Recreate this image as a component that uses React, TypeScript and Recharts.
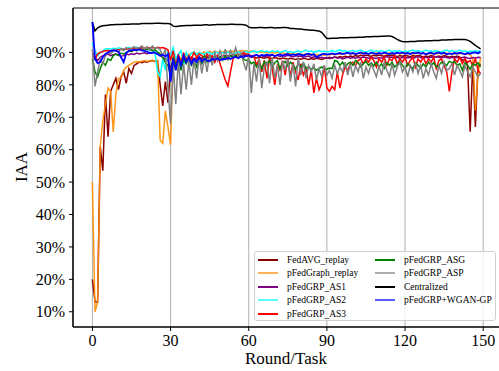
import React from "react";
import {
  LineChart,
  Line,
  XAxis,
  YAxis,
  CartesianGrid,
  Legend,
  ReferenceArea,
} from "recharts";

// IAA (%) per round/task (rounds 0..149)
const FEDAVG_REPLAY = [
  20.0, 13.0, 13.0, 61.0, 53.5, 77.0, 64.0, 78.0, 80.0, 82.0,
  78.5, 82.5, 84.0, 80.5, 85.0, 83.5, 86.0, 86.5, 87.0, 86.8,
  87.2, 87.0, 87.3, 87.5, 87.2, 87.5, 80.0, 73.5, 81.0, 74.5,
  85.0, 88.0, 86.5, 87.5, 88.0, 87.0, 88.2, 87.8, 88.5, 88.0,
  88.3, 88.6, 88.2, 88.8, 88.5, 88.9, 88.4, 88.7, 89.0, 88.6,
  88.8, 89.0, 88.7, 89.1, 88.9, 89.2, 88.8, 89.0, 89.3, 89.0,
  88.6, 88.8, 88.5, 88.3, 88.6, 88.4, 88.2, 88.5, 88.3, 88.1,
  88.4, 88.2, 88.0, 88.3, 88.1, 87.9, 88.2, 88.0, 87.8, 88.1,
  87.9, 88.2, 88.0, 87.8, 88.1, 87.9, 88.2, 88.0, 87.8, 88.1,
  88.3, 88.5, 88.2, 88.6, 88.4, 88.7, 88.5, 88.8, 88.6, 88.9,
  88.7, 89.0, 88.8, 89.1, 88.9, 89.2, 89.0, 88.8, 89.1, 88.9,
  89.2, 89.0, 88.8, 89.1, 88.9, 89.2, 89.0, 88.7, 89.0, 88.8,
  89.1, 88.9, 88.7, 89.0, 88.8, 89.1, 88.9, 88.6, 88.9, 88.7,
  89.0, 88.8, 88.6, 88.9, 88.7, 89.0, 88.8, 88.5, 88.8, 88.6,
  88.9, 88.5, 87.5, 88.0, 86.0, 65.5, 87.0, 67.0, 85.5, 86.5,
];

const PFEDGRAPH_REPLAY = [
  50.0, 10.0, 13.0, 61.0, 69.0, 74.0, 79.0, 78.0, 65.5, 77.0,
  82.0, 82.0, 84.5, 85.5, 86.0, 86.5, 87.0, 87.2, 87.0, 87.3,
  87.5, 87.2, 87.4, 87.6, 87.3, 87.5, 63.0, 62.0, 72.0, 67.0,
  61.5, 88.5, 87.5, 89.0, 88.0, 89.5, 88.8, 89.3, 89.8, 89.5,
  89.7, 90.0, 89.6, 90.2, 89.8, 90.3, 89.9, 90.4, 90.0, 90.3,
  90.1, 90.5, 90.2, 90.6, 90.3, 90.5, 90.2, 90.6, 90.4, 90.5,
  90.2, 90.4, 90.1, 90.3, 90.0, 90.2, 89.9, 90.1, 89.8, 90.0,
  89.8, 90.0, 89.7, 89.9, 89.6, 89.8, 89.5, 89.7, 89.4, 89.6,
  89.5, 89.3, 89.6, 89.2, 89.5, 89.1, 89.4, 89.0, 89.3, 89.1,
  89.4, 89.2, 89.5, 89.3, 89.6, 89.4, 89.7, 89.5, 89.8, 89.6,
  89.7, 89.5, 89.8, 89.6, 89.9, 89.7, 89.5, 89.8, 89.6, 89.9,
  89.7, 89.5, 89.8, 89.6, 89.9, 89.7, 89.6, 89.8, 89.5, 89.7,
  89.9, 89.6, 89.8, 89.5, 89.7, 89.9, 89.6, 89.8, 89.5, 89.7,
  89.6, 89.8, 89.5, 89.7, 89.9, 89.6, 89.8, 89.5, 89.7, 89.6,
  89.8, 89.5, 89.7, 89.4, 89.6, 89.3, 88.0, 72.0, 83.0, 88.5,
];

const PFEDGRP_AS1 = [
  90.0, 88.5, 87.5, 88.5, 89.0, 89.2, 89.5, 89.0, 89.3, 89.5,
  89.2, 88.8, 89.0, 89.5, 89.3, 89.6, 89.4, 89.8, 89.5, 89.7,
  89.9, 89.6, 89.8, 90.0, 89.7, 89.5, 89.0, 88.5, 88.0, 87.5,
  85.0, 87.5, 86.0, 87.8, 86.5, 88.0, 87.0, 88.2, 87.5, 88.0,
  87.8, 88.3, 88.0, 88.5, 88.2, 88.6, 88.3, 88.8, 88.5, 88.7,
  88.9, 88.6, 89.0, 88.8, 89.1, 88.9, 89.2, 89.0, 89.3, 89.1,
  88.7, 89.0, 88.8, 89.2, 88.9, 89.1, 88.6, 89.0, 88.8, 89.2,
  88.9, 89.1, 88.7, 89.0, 88.8, 89.1, 88.9, 88.6, 89.0, 88.8,
  88.9, 88.5, 88.7, 88.9, 88.4, 88.6, 88.8, 88.3, 88.5, 88.2,
  88.4, 88.1, 88.3, 88.6, 88.2, 88.4, 88.0, 88.3, 88.5, 88.2,
  88.4, 88.2, 88.5, 88.3, 88.6, 88.4, 88.2, 88.5, 88.3, 88.1,
  88.4, 88.2, 88.5, 88.7, 88.4, 88.6, 88.3, 88.5, 88.2, 88.4,
  88.6, 88.3, 88.5, 88.2, 88.4, 88.7, 88.4, 88.2, 88.5, 88.3,
  88.6, 88.4, 88.7, 88.5, 88.3, 88.6, 88.4, 88.2, 88.5, 88.3,
  88.5, 88.2, 88.4, 88.6, 88.3, 88.1, 88.4, 88.2, 88.5, 88.4,
];

const PFEDGRP_AS2 = [
  93.0, 90.5, 89.0, 90.0, 90.5, 91.0, 91.2, 91.0, 91.3, 91.1,
  91.4, 91.2, 91.0, 91.3, 91.5, 91.2, 91.4, 91.6, 91.3, 91.5,
  91.2, 91.0, 90.5, 90.8, 90.0, 84.0, 82.5, 88.0, 84.5, 90.5,
  89.0, 91.5, 88.0, 89.5, 90.5, 86.0, 90.0, 88.5, 89.8, 90.2,
  89.3, 90.0, 89.7, 89.4, 90.1, 89.8, 89.5, 90.2, 89.9, 89.6,
  90.0, 89.7, 90.1, 89.8, 89.5, 89.9, 90.2, 89.7, 90.0, 90.3,
  89.9, 90.2, 90.5, 90.1, 90.3, 90.6, 90.2, 90.4, 90.1, 90.5,
  90.2, 90.4, 90.0, 90.3, 90.6, 90.1, 90.3, 89.9, 90.2, 90.5,
  90.1, 90.4, 90.7, 90.2, 90.5, 90.0, 90.3, 90.6, 90.2, 90.4,
  90.1, 90.3, 90.6, 90.2, 90.5, 90.8, 90.3, 90.6, 90.2, 90.4,
  90.6, 90.2, 90.5, 90.7, 90.3, 90.1, 90.4, 90.7, 90.2, 90.5,
  90.3, 90.6, 90.1, 90.4, 90.7, 90.2, 90.5, 90.3, 90.6, 90.1,
  90.4, 90.2, 90.5, 90.7, 90.3, 90.6, 90.2, 90.4, 90.7, 90.3,
  90.5, 90.2, 90.6, 90.3, 90.1, 90.5, 90.7, 90.3, 90.6, 90.2,
  90.4, 90.7, 90.3, 90.5, 90.1, 90.4, 90.2, 90.6, 90.3, 90.5,
];

const PFEDGRP_AS3 = [
  89.0, 88.0, 89.5, 90.0, 90.3, 90.5, 90.6, 90.5, 90.7, 90.8,
  90.8, 90.9, 91.0, 91.0, 91.1, 91.2, 91.1, 91.3, 91.2, 91.4,
  91.3, 91.5, 91.4, 91.5, 91.3, 91.6, 91.4, 91.5, 91.2, 90.8,
  87.5, 90.5, 85.5, 89.5, 86.0, 90.0, 87.0, 89.0, 88.0, 90.0,
  88.5, 89.5, 89.0, 88.0, 89.5, 88.5, 89.0, 87.0, 89.0, 86.5,
  84.0, 81.5, 79.6, 84.0, 88.0, 89.0, 89.5, 89.0, 90.0, 89.5,
  89.5, 88.5, 89.0, 86.0, 88.0, 84.0, 87.5, 82.0, 88.5, 85.0,
  80.0, 86.0, 84.5, 87.5, 83.0, 88.0, 82.5, 87.0, 84.0, 81.5,
  86.5, 83.0, 85.0, 80.0, 84.5, 77.5, 82.0, 78.5, 80.5, 86.0,
  79.0, 78.0, 79.5, 78.5, 84.0, 79.0, 83.0, 85.5, 84.5, 86.5,
  87.0, 86.0, 87.5, 88.0, 86.5, 88.0, 87.0, 88.5, 87.5, 85.5,
  88.0, 87.0, 88.5, 86.0, 88.0, 87.5, 89.0, 86.5, 88.0, 87.0,
  88.5, 86.0, 87.5, 88.5, 85.5, 88.0, 87.0, 88.5, 86.5, 88.0,
  87.0, 88.5, 85.0, 87.5, 88.0, 86.0, 84.0, 78.0, 84.0, 88.0,
  87.0, 88.5, 86.5, 88.0, 87.0, 87.5, 86.0, 88.0, 84.5, 83.5,
];

const PFEDGRP_ASG = [
  88.0, 84.0, 82.5, 85.0, 87.0, 86.0, 88.0, 87.5, 89.0, 89.5,
  89.0, 89.8, 89.5, 90.0, 90.5, 90.2, 90.8, 90.5, 91.0, 90.6,
  91.0, 90.8, 91.2, 90.5, 90.8, 90.2, 89.5, 88.5, 87.0, 86.0,
  83.0, 88.5, 86.0, 87.5, 84.5, 88.0, 86.5, 88.5, 86.0, 87.5,
  85.5, 88.0, 86.5, 89.0, 87.0, 88.5, 87.5, 89.0, 88.0, 88.5,
  87.5, 88.8, 88.0, 89.0, 88.5, 89.2, 88.3, 88.8, 88.0, 87.5,
  87.8, 86.5, 87.0, 85.5, 86.8, 85.0, 87.2, 86.0, 87.5, 85.5,
  86.8, 87.5, 85.0, 86.5, 87.2, 85.8, 87.0, 86.2, 84.8, 86.5,
  85.5, 86.8, 85.0, 85.5, 84.8, 85.2, 84.5, 85.0, 85.5, 85.0,
  84.8, 85.2, 85.0, 87.5, 87.2, 86.0, 87.0, 85.5, 86.5, 87.0,
  86.0, 87.5, 86.8, 85.5, 86.5, 87.2, 86.0, 86.8, 85.8, 87.0,
  85.5, 86.5, 85.0, 86.8, 86.0, 87.0, 85.5, 86.2, 87.2, 86.0,
  85.0, 86.5, 85.8, 85.0, 86.8, 86.0, 85.2, 86.5, 85.5, 87.0,
  86.0, 86.8, 85.5, 86.0, 87.0, 86.5, 86.0, 87.3, 86.8, 87.2,
  86.0, 86.5, 84.5, 86.8, 86.0, 84.8, 86.5, 86.0, 86.8, 85.5,
];

const PFEDGRP_ASP = [
  91.0, 79.5, 84.0, 88.0, 86.5, 89.0, 90.0, 89.5, 90.5, 91.0,
  90.0, 91.2, 90.5, 91.5, 90.8, 91.2, 91.8, 90.8, 91.5, 92.0,
  91.0, 91.8, 90.6, 92.0, 91.2, 91.5, 90.8, 89.0, 91.0, 79.0,
  68.0, 86.0, 74.0, 88.0, 77.0, 86.5, 78.5, 87.5, 80.0, 88.0,
  82.0, 89.0, 83.5, 88.5, 84.0, 89.5, 86.0, 90.0, 87.5, 90.5,
  88.0, 91.0, 87.5, 90.5, 89.0, 91.5, 88.5, 90.0, 87.0, 84.5,
  89.0, 77.5, 86.5, 81.0, 88.0, 79.0, 85.5, 87.0, 80.5, 88.5,
  82.0, 86.0, 80.0, 87.5, 84.5, 88.0, 81.0, 86.5, 79.5, 88.5,
  83.0, 87.0, 82.0, 86.0, 84.0, 86.5, 81.5, 85.0, 82.5, 86.0,
  83.0, 84.5, 82.0, 86.0, 83.5, 85.5, 84.0, 87.0, 83.0, 86.5,
  82.5, 86.0, 84.0, 87.0, 82.0, 85.5, 83.5, 86.5, 84.5, 82.5,
  86.0, 83.0, 87.0, 84.5, 82.5, 86.5, 83.0, 85.5, 87.0, 84.0,
  85.5, 82.5, 86.0, 84.0, 87.0, 83.5, 86.0, 82.0, 85.0, 83.0,
  86.5, 84.0, 82.0, 86.0, 83.5, 87.0, 84.5, 85.0, 86.5, 83.0,
  86.0, 84.5, 82.5, 86.0, 84.0, 82.5, 85.5, 84.0, 82.5, 83.5,
];

const CENTRALIZED = [
  99.2, 96.6, 97.6, 98.0, 98.2, 98.3, 98.4, 98.5, 98.5, 98.6,
  98.6, 98.6, 98.7, 98.7, 98.7, 98.8, 98.8, 98.8, 98.8, 98.9,
  98.9, 98.9, 98.9, 98.9, 99.0, 99.0, 99.0, 98.9, 98.9, 98.9,
  98.8, 98.1, 98.0, 98.1, 98.2, 98.2, 98.3, 98.3, 98.3, 98.4,
  98.4, 98.4, 98.4, 98.5, 98.5, 98.4, 98.5, 98.5, 98.6, 98.6,
  98.6, 98.6, 98.6, 98.7, 98.7, 98.6, 98.6, 98.6, 98.5, 98.4,
  97.8, 97.6, 97.6, 97.6, 97.7, 97.7, 97.6, 97.6, 97.7, 97.7,
  97.5, 97.6, 97.6, 97.7, 97.7, 97.6, 97.4, 97.4, 97.3, 97.2,
  97.2, 97.1, 97.0, 96.9, 96.8, 96.8, 96.7, 96.6, 96.2, 95.2,
  94.3, 94.3, 94.4, 94.4, 94.4, 94.5, 94.5, 94.5, 94.5, 94.6,
  94.6, 94.6, 94.7, 94.7, 94.7, 94.8, 94.8, 94.8, 94.9, 94.9,
  94.9, 95.0, 95.0, 95.1, 95.1, 94.9, 94.5, 94.0, 93.6, 93.4,
  93.3, 93.3, 93.4, 93.4, 93.4, 93.5, 93.5, 93.5, 93.6, 93.6,
  93.6, 93.7, 93.7, 93.7, 93.8, 93.8, 93.8, 93.9, 93.9, 94.0,
  94.0, 94.0, 94.0, 94.0, 93.8, 93.4, 92.8, 92.2, 91.6, 91.1,
];

const PFEDGRP_WGAN = [
  99.4, 88.0, 86.7, 87.0, 88.5, 89.5, 90.0, 90.4, 90.6, 90.5,
  90.2, 88.5, 87.0, 89.8, 90.5, 90.6, 90.8, 90.7, 90.9, 90.6,
  90.5, 90.2, 89.8, 89.9, 90.0, 89.5, 89.0, 89.3, 88.8, 89.5,
  81.0, 88.0, 84.5, 88.5, 86.0, 89.0, 87.0, 88.5, 86.5, 88.0,
  87.0, 88.5, 87.2, 88.0, 87.5, 87.3, 88.0, 87.8, 88.2, 87.6,
  88.0, 87.9, 88.3, 88.0, 88.4, 88.6, 88.2, 88.8, 88.5, 88.9,
  89.1, 88.6, 89.0, 89.3, 88.8, 89.2, 89.0, 89.4, 89.1, 89.3,
  88.9, 89.2, 89.4, 89.0, 89.3, 89.5, 89.1, 89.4, 89.2, 89.5,
  89.3, 89.0, 89.4, 89.6, 89.2, 89.5, 88.5, 89.0, 89.4, 89.6,
  89.3, 89.5, 89.7, 89.4, 89.6, 89.8, 89.5, 89.7, 89.9, 89.6,
  89.8, 89.5, 89.7, 90.0, 89.6, 89.8, 89.5, 89.9, 89.7, 89.5,
  89.8, 89.6, 90.0, 89.7, 89.5, 89.8, 89.6, 89.9, 89.7, 90.0,
  89.6, 89.8, 89.5, 89.9, 89.7, 90.0, 89.6, 89.8, 89.4, 89.7,
  89.9, 89.5, 89.8, 90.0, 89.6, 89.9, 89.4, 89.7, 89.5, 89.8,
  89.6, 89.9, 89.7, 89.4, 89.8, 89.6, 89.9, 90.0, 89.7, 90.2,
];

const X_TICKS = [0, 30, 60, 90, 120, 150];
const Y_TICKS = [10, 20, 30, 40, 50, 60, 70, 80, 90];

const SERIES = [
  { key: "fedavg", name: "FedAVG_replay", color: "#8b0000", values: FEDAVG_REPLAY, width: 1.5, opacity: 1 },
  { key: "pfedgraph", name: "pFedGraph_replay", color: "#ff8c00", values: PFEDGRAPH_REPLAY, width: 1.5, opacity: 0.9 },
  { key: "as1", name: "pFedGRP_AS1", color: "#800080", values: PFEDGRP_AS1, width: 1.5, opacity: 1 },
  { key: "as2", name: "pFedGRP_AS2", color: "#00ffff", values: PFEDGRP_AS2, width: 1.5, opacity: 1 },
  { key: "as3", name: "pFedGRP_AS3", color: "#ff0000", values: PFEDGRP_AS3, width: 1.5, opacity: 1 },
  { key: "asg", name: "pFedGRP_ASG", color: "#008000", values: PFEDGRP_ASG, width: 1.5, opacity: 1 },
  { key: "asp", name: "pFedGRP_ASP", color: "#808080", values: PFEDGRP_ASP, width: 1.5, opacity: 1 },
  { key: "central", name: "Centralized", color: "#000000", values: CENTRALIZED, width: 1.5, opacity: 1 },
  { key: "wgan", name: "pFedGRP+WGAN-GP", color: "#0000ff", values: PFEDGRP_WGAN, width: 1.8, opacity: 1 },
];

const data = CENTRALIZED.map((_, i) => {
  const row: Record<string, number> = { x: i };
  SERIES.forEach((s) => {
    row[s.key] = s.values[i];
  });
  return row;
});

const X_DOMAIN = [-7.45, 156.45];
const Y_DOMAIN = [5.3, 103.7];
const FONT = "'Liberation Serif', 'Times New Roman', serif";

function LegendBox() {
  const cols = [SERIES.slice(0, 5), SERIES.slice(5)];
  return (
    <div
      style={{
        width: 242,
        height: 70,
        boxSizing: "border-box",
        border: "1px solid #d0d0d0",
        borderRadius: 3,
        background: "rgba(255,255,255,0.8)",
        position: "relative",
        fontFamily: FONT,
        fontSize: 9.5,
        color: "#000",
      }}
    >
      {cols.map((col, ci) =>
        col.map((s, ri) => (
          <div
            key={s.key}
            style={{
              position: "absolute",
              left: ci === 0 ? 3 : 120,
              top: 1 + ri * 13.5,
              height: 13,
              display: "flex",
              alignItems: "center",
              whiteSpace: "nowrap",
            }}
          >
            <span
              style={{
                display: "inline-block",
                width: 20,
                height: 2,
                background: s.color,
                opacity: s.key === "pfedgraph" || s.key === "as2" || s.key === "asp" || s.key === "wgan" ? 0.65 : 1,
                marginRight: 9,
              }}
            />
            {s.name}
          </div>
        ))
      )}
    </div>
  );
}

export default function App() {
  return (
    <div style={{ position: "absolute", left: 0, top: 0, width: 499, height: 371, overflow: "hidden", background: "#fff" }}>
      <LineChart width={500} height={371} data={data} margin={{ top: 8, right: 0, left: 0, bottom: 0 }}>
        <CartesianGrid horizontal={false} stroke="#b0b0b0" strokeWidth={1} />
        <XAxis
          dataKey="x"
          type="number"
          domain={X_DOMAIN}
          allowDataOverflow
          ticks={X_TICKS}
          height={44}
          tickSize={4}
          tickMargin={4}
          stroke="#000"
          tick={{ fill: "#000", fontSize: 16, fontFamily: FONT }}
          label={{
            content: () => (
              <text x={286} y={364} textAnchor="middle" fontSize={17} fontFamily={FONT} fill="#000">
                Round/Task
              </text>
            ),
          }}
        />
        <YAxis
          type="number"
          domain={Y_DOMAIN}
          allowDataOverflow
          ticks={Y_TICKS}
          width={73}
          tickSize={4}
          tickMargin={4}
          stroke="#000"
          tickFormatter={(v: number) => `${v}%`}
          tick={{ fill: "#000", fontSize: 16, fontFamily: FONT }}
          label={{
            content: () => (
              <text
                x={27}
                y={167}
                textAnchor="middle"
                fontSize={17}
                fontFamily={FONT}
                fill="#000"
                transform="rotate(-90 27 167)"
              >
                IAA
              </text>
            ),
          }}
        />
        <ReferenceArea
          x1={X_DOMAIN[0]}
          x2={X_DOMAIN[1]}
          y1={Y_DOMAIN[0]}
          y2={Y_DOMAIN[1]}
          fill="none"
          stroke="#000"
          strokeWidth={1}
          ifOverflow="visible"
        />
        {SERIES.map((s) => (
          <Line
            key={s.key}
            type="linear"
            dataKey={s.key}
            name={s.name}
            stroke={s.color}
            strokeWidth={s.width}
            strokeOpacity={s.opacity}
            dot={false}
            activeDot={false}
            isAnimationActive={false}
          />
        ))}
        <Legend
          layout="horizontal"
          verticalAlign="middle"
          align="center"
          wrapperStyle={{ position: "absolute", left: 254, top: 251, width: 242, height: 70 }}
          content={() => <LegendBox />}
        />
      </LineChart>
    </div>
  );
}
